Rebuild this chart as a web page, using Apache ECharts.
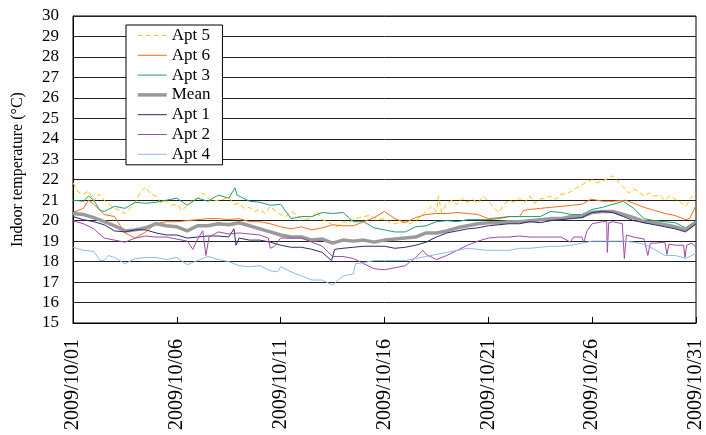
<!DOCTYPE html>
<html><head><meta charset="utf-8">
<script src="https://cdn.jsdelivr.net/npm/echarts/dist/echarts.min.js"></script>
<style>html,body{margin:0;padding:0;background:#fff}#c{width:706px;height:435px}</style>
</head><body><div id="c"></div>
<script>
// x values are days since 2009/10/01 00:00
const xTickLabels = ['2009/10/01','2009/10/06','2009/10/11','2009/10/16','2009/10/21','2009/10/26','2009/10/31'];
const seriesNames = ['Apt 5','Apt 6','Apt 3','Mean','Apt 1','Apt 2','Apt 4'];

const apt5 = [[0,21.85],[0.25,21.4],[0.5,21.3],[0.75,21.45],[1,20.95],[1.25,21.3],[1.5,21.0],[1.75,20.8],[2,20.6],[2.25,20.5],[2.5,20.35],[2.75,20.6],[3,20.9],[3.25,21.4],[3.5,21.65],[3.75,21.3],[4,21.2],[4.25,20.85],[4.5,20.95],[4.75,20.75],[5,20.8],[5.25,20.5],[5.5,20.75],[5.75,21.0],[6,21.1],[6.25,21.35],[6.5,21.1],[6.75,20.95],[7,21.0],[7.25,21.05],[7.5,21.15],[7.75,20.8],[8,20.85],[8.25,20.6],[8.5,20.65],[8.75,20.45],[9,20.55],[9.25,20.35],[9.5,20.7],[9.75,20.45],[10,20.3],[10.25,20.2],[10.5,20.45],[10.75,20.3],[11,20.1],[11.25,20.05],[11.5,20.15],[11.75,20.45],[12,20.05],[12.25,19.95],[12.5,19.8],[12.75,19.7],[13,19.95],[13.25,19.9],[13.5,20.05],[13.75,20.15],[14,20.2],[14.25,20.25],[14.5,20.15],[14.75,20.05],[15,20.1],[15.25,19.9],[15.5,19.85],[15.75,19.9],[16,19.95],[16.25,19.85],[16.5,20.0],[16.75,20.2],[17,20.45],[17.25,20.7],[17.5,20.45],[17.6,21.2],[17.75,20.4],[18,20.85],[18.25,21.0],[18.5,20.8],[18.75,21.1],[19,20.9],[19.25,21.05],[19.5,20.85],[19.75,21.2],[20,20.95],[20.25,20.65],[20.5,20.4],[20.75,20.8],[21,21.0],[21.25,20.9],[21.5,21.1],[21.75,20.9],[22,21.2],[22.25,20.85],[22.5,21.05],[22.75,21.1],[23,21.2],[23.25,21.05],[23.5,21.3],[23.75,21.3],[24,21.45],[24.25,21.6],[24.5,21.75],[24.75,21.9],[25,22.0],[25.25,21.85],[25.5,21.95],[25.75,22.05],[26,22.2],[26.25,21.9],[26.5,21.65],[26.75,21.35],[27,21.55],[27.25,21.4],[27.5,21.2],[27.75,21.35],[28,21.2],[28.25,21.25],[28.5,21.0],[28.75,21.2],[29,21.05],[29.25,20.9],[29.5,20.7],[29.75,21.1],[30,21.35]];

const apt6 = [[0,20.4],[0.5,20.6],[0.75,21.0],[1,20.8],[1.5,20.3],[2,20.2],[2.5,19.4],[3,19.15],[3.5,19.45],[4,19.85],[4.5,19.95],[5,19.95],[5.5,20.0],[6,20.05],[6.5,20.1],[7,20.1],[7.5,20.05],[8,20.1],[8.5,19.95],[9,19.95],[9.5,19.85],[10,19.7],[10.5,19.6],[11,19.7],[11.5,19.55],[12,19.65],[12.5,19.8],[13,19.75],[13.5,19.75],[14,19.95],[14.5,20.15],[15,20.45],[15.5,20.1],[16,19.9],[16.5,20.15],[17,20.3],[17.5,20.35],[18,20.35],[18.5,20.4],[19,20.35],[19.5,20.3],[20,20.1],[20.5,20.15],[21,20.2],[21.5,20.2],[21.7,20.5],[22,20.55],[22.5,20.6],[23,20.65],[23.5,20.7],[24,20.75],[24.5,20.8],[24.95,21.05],[25.5,20.95],[26,20.95],[26.6,21.0],[27,20.85],[27.5,20.65],[28,20.5],[28.5,20.35],[29,20.25],[29.5,20.05],[29.7,20.1],[30,20.75]];

const apt3 = [[0,21.0],[0.5,20.95],[0.75,21.2],[1,21.0],[1.3,20.5],[1.5,20.45],[2,20.7],[2.5,20.6],[3,20.9],[3.5,20.85],[4,20.9],[4.5,21.0],[5,21.1],[5.5,20.75],[6,21.1],[6.5,20.95],[7,21.25],[7.5,21.1],[7.8,21.6],[7.9,21.25],[8,21.2],[8.5,20.95],[9,20.9],[9.5,20.75],[10,20.8],[10.5,20.1],[11,20.2],[11.5,20.2],[12,20.4],[12.5,20.35],[13,20.4],[13.5,19.95],[14,19.95],[14.5,19.65],[15,19.55],[15.5,19.45],[16,19.45],[16.5,19.7],[17,19.75],[17.5,19.95],[18,20.0],[18.5,19.95],[19,20.05],[19.5,20.05],[20,20.05],[20.5,20.1],[21,20.2],[21.5,20.2],[22,20.2],[22.5,20.2],[23,20.45],[23.5,20.4],[24,20.3],[24.5,20.3],[25,20.55],[25.5,20.65],[26,20.8],[26.5,20.95],[27,20.6],[27.5,20.1],[28,20.0],[28.5,19.95],[29,19.9],[29.5,19.65],[30,20.0]];

const meanT = [[0,20.35],[0.5,20.3],[1,20.15],[1.5,19.95],[2,19.75],[2.5,19.5],[3,19.55],[3.5,19.65],[4,19.85],[4.5,19.75],[5,19.7],[5.5,19.5],[6,19.75],[6.5,19.75],[7,19.85],[7.5,19.8],[8,19.9],[8.5,19.75],[9,19.6],[9.5,19.45],[10,19.3],[10.5,19.2],[11,19.2],[11.5,19.05],[12,19.1],[12.5,18.9],[13,19.05],[13.5,19.0],[14,19.05],[14.5,18.95],[15,19.05],[15.5,19.1],[16,19.15],[16.5,19.2],[17,19.4],[17.5,19.4],[18,19.5],[18.5,19.65],[19,19.75],[19.5,19.85],[20,19.9],[20.5,19.9],[21,19.95],[21.5,19.95],[22,20.0],[22.5,20.05],[23,20.1],[23.5,20.1],[24,20.2],[24.5,20.2],[25,20.4],[25.5,20.45],[26,20.45],[26.5,20.3],[27,20.15],[27.5,19.95],[28,19.9],[28.5,19.8],[29,19.7],[29.5,19.55],[30,19.9]];

const apt1 = [[0,20.2],[0.5,20.05],[1,19.95],[1.5,19.8],[2,19.5],[2.5,19.45],[3,19.55],[3.5,19.55],[4,19.4],[4.5,19.3],[5,19.3],[5.5,19.15],[6,19.2],[6.5,19.25],[7,19.25],[7.5,19.2],[7.75,19.6],[7.85,18.8],[8,19.15],[8.5,19.05],[9,19.05],[9.5,18.95],[10,18.8],[10.5,18.7],[11,18.7],[11.5,18.6],[12,18.45],[12.45,18.05],[12.6,18.6],[13,18.65],[13.5,18.7],[14,18.75],[14.5,18.75],[15,18.75],[15.5,18.65],[16,18.7],[16.5,18.8],[17,18.95],[17.5,19.2],[18,19.4],[18.5,19.5],[19,19.6],[19.5,19.65],[20,19.75],[20.5,19.8],[21,19.85],[21.5,19.85],[22,19.95],[22.5,19.9],[23,20.0],[23.5,20.05],[24,20.1],[24.5,20.15],[25,20.4],[25.5,20.45],[26,20.4],[26.5,20.2],[27,20.0],[27.5,19.9],[28,19.8],[28.5,19.7],[29,19.6],[29.5,19.45],[30,19.85]];

const apt2 = [[0,20.0],[0.5,19.85],[1,19.6],[1.5,19.15],[2,19.05],[2.5,18.95],[3,19.15],[3.5,19.25],[4,19.2],[4.5,19.2],[5,19.1],[5.5,19.0],[5.77,18.6],[6,19.1],[6.25,19.5],[6.4,18.3],[6.55,19.2],[7,19.45],[7.5,19.35],[8,19.4],[8.5,19.35],[9,19.3],[9.4,19.15],[9.5,18.65],[9.7,18.75],[10,19.15],[10.5,19.15],[11,19.15],[11.5,18.95],[12,18.75],[12.5,18.25],[13,18.25],[13.5,18.15],[14,17.9],[14.5,17.65],[15,17.6],[15.5,17.7],[16,17.8],[16.5,18.2],[16.85,18.55],[17,18.35],[17.5,18.1],[18,18.3],[18.5,18.55],[19,18.8],[19.5,19.0],[20,19.15],[20.5,19.2],[21,19.2],[21.5,19.25],[22,19.2],[22.5,19.2],[23,19.2],[23.5,19.2],[23.95,18.95],[24.1,19.2],[24.5,19.2],[24.6,18.95],[24.75,19.5],[25,19.85],[25.5,19.95],[25.7,19.95],[25.73,18.45],[25.8,19.9],[26,19.95],[26.45,19.85],[26.55,18.15],[26.65,19.3],[27,19.2],[27.5,19.1],[27.68,18.3],[27.8,18.9],[28,18.9],[28.5,18.95],[28.6,18.35],[28.7,18.85],[29,18.8],[29.4,18.8],[29.47,18.2],[29.55,18.8],[29.8,18.9],[30,18.7]];

const apt4 = [[0,18.7],[0.5,18.55],[1,18.5],[1.3,18.05],[1.5,18.05],[1.7,18.3],[2,18.2],[2.5,17.9],[3,18.15],[3.5,18.2],[4,18.2],[4.5,18.1],[5,18.2],[5.5,17.85],[6,18.05],[6.5,18.25],[7,18.1],[7.5,18.0],[8,17.8],[8.5,17.75],[9,17.8],[9.5,17.55],[9.85,17.5],[10,17.75],[10.5,17.5],[11,17.3],[11.5,17.1],[12,17.1],[12.5,16.85],[13,17.3],[13.5,17.4],[13.6,17.9],[14,17.95],[14.5,18.05],[15,18.05],[15.5,18.05],[16,18.05],[16.5,18.15],[17,18.25],[17.5,18.35],[18,18.45],[18.5,18.55],[19,18.65],[19.5,18.6],[20,18.55],[20.5,18.55],[21,18.55],[21.5,18.65],[22,18.65],[22.5,18.7],[23,18.75],[23.5,18.75],[24,18.8],[24.5,18.9],[25,19.0],[25.5,19.0],[26,19.0],[26.5,19.0],[27,18.95],[27.5,18.85],[28,18.6],[28.5,18.3],[29,18.3],[29.5,18.15],[30,18.4]];

const seriesData = [apt5, apt6, apt3, meanT, apt1, apt2, apt4];
const colors = ['#FFC000','#FF6A13','#1F9E6A','#9A9A9A','#2A2A6E','#A248A6','#8DBBEA'];
const widths = [1, 1, 1, 3.5, 1, 1, 1];
const FONT = 'Liberation Serif';

const chart = echarts.init(document.getElementById('c'), null, {renderer:'canvas'});
chart.setOption({
  animation: false,
  backgroundColor: '#fff',
  grid: {left: 73, right: 7, top: 16, bottom: 112, show: true, borderColor: '#000', borderWidth: 1, backgroundColor: 'transparent'},
  legend: {
    orient: 'vertical', left: 126, top: 25,
    data: seriesNames,
    itemWidth: 29, itemHeight: 14, itemGap: 2.8,
    padding: [2, 12, 2, 10],
    borderColor: '#000', borderWidth: 1, backgroundColor: '#fff',
    itemStyle: {opacity: 0},
    lineStyle: {width: 'inherit'},
    textStyle: {fontFamily: FONT, fontSize: 17, color: '#000', lineHeight: 17}
  },
  xAxis: {
    type: 'value', min: 0, max: 30, interval: 5,
    axisLine: {show: true, lineStyle: {color: '#000', width: 1}},
    axisTick: {show: true, inside: true, length: 6, lineStyle: {color: '#000'}},
    splitLine: {show: false},
    axisLabel: {rotate: 90, fontFamily: FONT, fontSize: 20, color: '#000', margin: 16,
      formatter: v => xTickLabels[Math.round(v / 5)]}
  },
  yAxis: {
    type: 'value', min: 15, max: 30, interval: 1,
    name: 'Indoor temperature (°C)', nameLocation: 'middle', nameGap: 47,
    nameTextStyle: {fontFamily: FONT, fontSize: 16, color: '#000'},
    axisLine: {show: true, lineStyle: {color: '#000'}},
    axisTick: {show: false},
    splitLine: {show: true, lineStyle: {color: '#222', width: 1}},
    axisLabel: {fontFamily: FONT, fontSize: 17, color: '#000', margin: 14}
  },
  series: seriesNames.map((n, i) => ({
    name: n, type: 'line', data: seriesData[i], symbol: 'none', showSymbol: false,
    silent: true, z: 2 + i,
    itemStyle: {color: colors[i]},
    lineStyle: {color: colors[i], width: widths[i], type: i === 0 ? [5, 3] : 'solid'}
  }))
});
</script></body></html>
